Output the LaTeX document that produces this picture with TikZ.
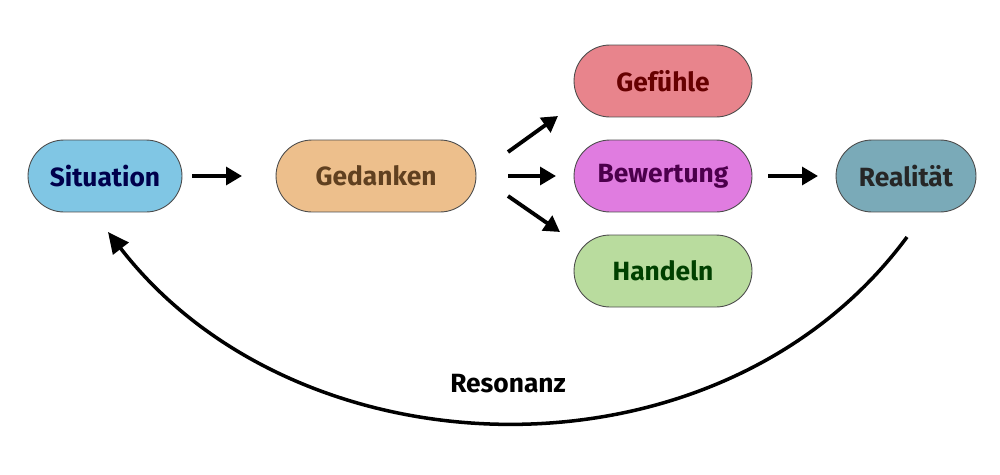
\documentclass[tikz,border=0pt]{standalone}
\usepackage{fontspec}
\setmainfont{Fira Sans}
\usetikzlibrary{arrows.meta}
\definecolor{cSit}{HTML}{80C6E4}
\definecolor{cGed}{HTML}{EDBF8C}
\definecolor{cGef}{HTML}{E8848C}
\definecolor{cBew}{HTML}{E07CE0}
\definecolor{cHan}{HTML}{B9DC9E}
\definecolor{cRea}{HTML}{7AAAB8}
\begin{document}
\begin{tikzpicture}[x=0.02cm,y=-0.02cm,
  box/.style={draw=black!70,line width=0.5pt,rounded corners=0.72cm,minimum height=1.44cm,font=\fontsize{15}{18}\selectfont\bfseries},
  arr/.style={line width=2.2pt,-{Triangle[length=9pt,width=10pt]}}]
\useasboundingbox (0,0) rectangle (1000,474);
\node[box,fill=cSit,text=blue!30!black,minimum width=3.08cm] (sit) at (105,176) {Situation};
\node[box,fill=cGed,text=brown!50!black,minimum width=4cm] (ged) at (376,176) {Gedanken};
\node[box,fill=cGef,text=red!40!black,minimum width=3.56cm] (gef) at (663,81) {Gefühle};
\node[box,fill=cBew,text=violet!60!black,minimum width=3.56cm] (bew) at (663,176) {Bewertung};
\node[box,fill=cHan,text=green!25!black,minimum width=3.56cm] (han) at (663,271) {Handeln};
\node[box,fill=cRea,text=black!85,minimum width=2.8cm] (rea) at (906,176) {Realität};
\coordinate (a1) at (192,176); \coordinate (a1e) at (242,176);
\coordinate (g1) at (508,152); \coordinate (g1e) at (558,116);
\coordinate (g2) at (508,176); \coordinate (g2e) at (556,176);
\coordinate (g3) at (508,196); \coordinate (g3e) at (560,232);
\coordinate (b1) at (768,176); \coordinate (b1e) at (818,176);
\draw[arr] (a1) -- (a1e);
\draw[arr] (g1) -- (g1e);
\draw[arr] (g2) -- (g2e);
\draw[arr] (g3) -- (g3e);
\draw[arr] (b1) -- (b1e);
\coordinate (rs) at (907,237); \coordinate (se) at (108,232);
\draw[line width=2pt,-{Triangle[length=12pt,width=11pt]}] (rs) .. controls (720,490) and (300,480) .. (se);
\node[font=\fontsize{15}{18}\selectfont\bfseries] (res) at (508,384) {Resonanz};
\end{tikzpicture}
\end{document}
